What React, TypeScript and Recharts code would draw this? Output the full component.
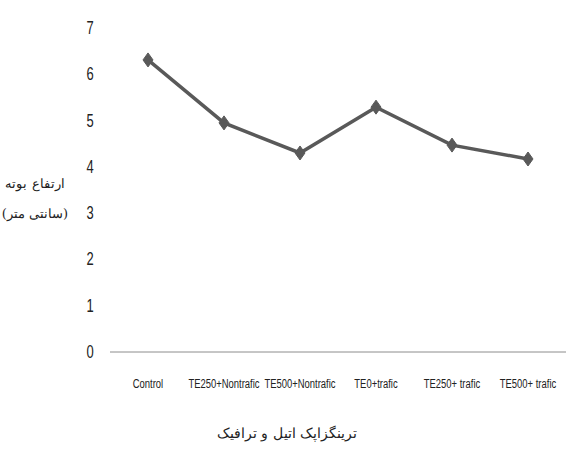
import React from 'react';
import { LineChart, Line, XAxis, YAxis } from 'recharts';

const categories = ['Control', 'TE250+Nontrafic', 'TE500+Nontrafic', 'TE0+trafic', 'TE250+ trafic', 'TE500+ trafic'];
const heights = [6.31, 4.95, 4.3, 5.29, 4.47, 4.17];
const yTicks = [0, 1, 2, 3, 4, 5, 6, 7];
const yTitle1 = 'ارتفاع بوته';
const yTitle2 = '(سانتی متر)';
const xTitle = 'ترینگزاپک اتیل و ترافیک';

const data = categories.map((c, i) => ({ name: c, value: heights[i] }));

const FONT = '"Liberation Sans", "DejaVu Sans", sans-serif';

const Diamond = (props: any) => {
  const { cx, cy } = props;
  if (cx == null || cy == null) return null;
  const w = 5, h = 7;
  return (
    <path d={`M${cx},${cy - h}L${cx + w},${cy}L${cx},${cy + h}L${cx - w},${cy}Z`} fill="#595959" stroke="#595959" strokeWidth={1} />
  );
};

const XTick = (props: any) => {
  const { x, y, payload } = props;
  return (
    <text transform={`translate(${x},${y + 10}) scale(0.7,1)`} textAnchor="middle" fontFamily={FONT} fontSize={13.5} fill="#222">
      {payload.value}
    </text>
  );
};

const YTick = (props: any) => {
  const { x, y, payload } = props;
  return (
    <text transform={`translate(${x - 4},${y + 6}) scale(0.72,1)`} textAnchor="middle" fontFamily={FONT} fontSize={18} fill="#222">
      {payload.value}
    </text>
  );
};

const YTitle = () => {
  return (
    <g>
      <text x={35} y={188} textAnchor="middle" direction="rtl" fontFamily='"DejaVu Serif", serif' fontSize={13} fill="#222">{yTitle1}</text>
      <text x={35} y={218} textAnchor="middle" direction="rtl" fontFamily='"DejaVu Serif", serif' fontSize={13} fill="#222">{yTitle2}</text>
    </g>
  );
};

const XTitle = () => {
  return (
    <text x={287} y={438} textAnchor="middle" direction="rtl" fontFamily='"DejaVu Serif", serif' fontSize={14} fill="#222">{xTitle}</text>
  );
};

export default function App() {
  return (
    <div style={{ position: 'absolute', left: 0, top: 0, background: '#fff' }}>
      <LineChart width={567} height={452} data={data} margin={{ top: 28, right: 1, bottom: 0, left: 0 }}>
        <XAxis
          dataKey="name"
          axisLine={{ stroke: '#8c8c8c', strokeWidth: 1 }}
          tickLine={false}
          tickMargin={20}
          interval={0}
          padding={{ left: 38, right: 38 }}
          tick={<XTick />}
          height={100}
          label={<XTitle />}
        />
        <YAxis
          domain={[0, 7]}
          ticks={yTicks}
          axisLine={false}
          tickLine={false}
          tickMargin={10}
          width={110}
          tick={<YTick />}
          label={<YTitle />}
        />
        <Line
          type="linear"
          dataKey="value"
          stroke="#595959"
          strokeWidth={3.5}
          dot={<Diamond />}
          activeDot={false}
          isAnimationActive={false}
        />
      </LineChart>
    </div>
  );
}
